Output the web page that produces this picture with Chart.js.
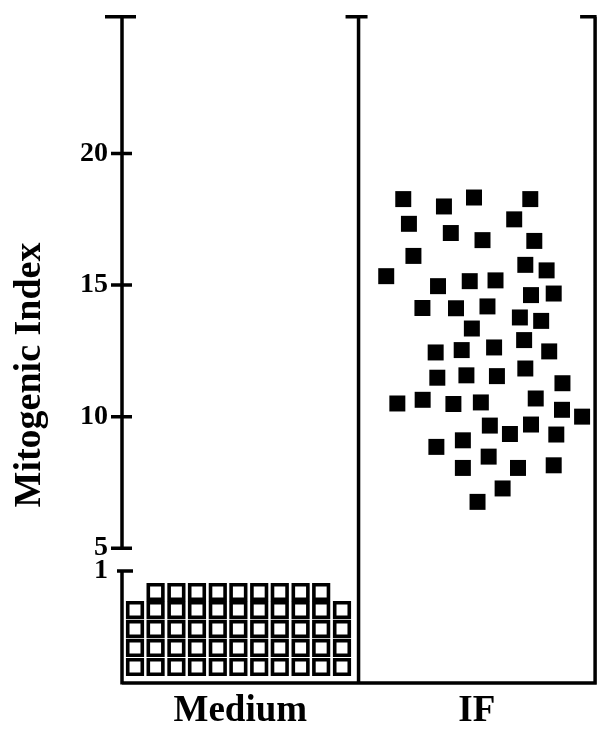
<!DOCTYPE html>
<html>
<head>
<meta charset="utf-8">
<script src="https://cdn.jsdelivr.net/npm/chart.js@4"></script>
<style>
  body { margin: 0; background: #fff; overflow: hidden; }
  #wrap { width: 609px; height: 743px; margin-top: -14px; }
</style>
</head>
<body>
<div id="wrap"><canvas id="mitoChart"></canvas></div>
<script>
// --- DONNEES ---
const categories = ["Medium", "IF"];
const categoryPos = [0.5, 1.5];
const upperTicks = [5, 10, 15, 20];
const lowerTicks = [1];

// Medium : grille de carrés ouverts
const mediumCols = [0.055, 0.142, 0.230, 0.317, 0.405, 0.492, 0.580, 0.667, 0.755, 0.842, 0.930];
const mediumRows = [0.143, 0.3125, 0.482, 0.652];
const mediumTopRow = 0.8125;
const mediumTopCols = [0.142, 0.230, 0.317, 0.405, 0.492, 0.580, 0.667, 0.755, 0.842];

// IF : carrés pleins
const ifX = [1.189, 1.361, 1.488, 1.726, 1.213, 1.658, 1.390, 1.524, 1.743, 1.232,
             1.117, 1.705, 1.795, 1.336, 1.470, 1.579, 1.729, 1.825, 1.270, 1.412,
             1.545, 1.682, 1.772, 1.479, 1.326, 1.436, 1.573, 1.700, 1.806, 1.333,
             1.456, 1.585, 1.705, 1.862, 1.164, 1.271, 1.401, 1.517, 1.749, 1.860,
             1.945, 1.555, 1.640, 1.729, 1.836, 1.329, 1.441, 1.550, 1.441, 1.674,
             1.825, 1.609, 1.503];
const ifY = [18.27, 17.99, 18.33, 18.27, 17.33, 17.50, 16.98, 16.71, 16.68, 16.11,
             15.34, 15.77, 15.56, 14.96, 15.15, 15.18, 14.62, 14.68, 14.13, 14.12,
             14.19, 13.77, 13.64, 13.35, 12.44, 12.53, 12.63, 12.91, 12.48, 11.48,
             11.57, 11.54, 11.83, 11.27, 10.50, 10.64, 10.48, 10.54, 10.69, 10.26,
             10.00, 9.66, 9.34, 9.70, 9.32, 8.85, 9.10, 8.48, 8.05, 8.05,
             8.15, 7.27, 6.76];

const mediumData = [];
mediumRows.forEach(y => mediumCols.forEach(x => mediumData.push({x: x, y: y})));
mediumTopCols.forEach(x => mediumData.push({x: x, y: mediumTopRow}));
const ifData = ifX.map((x, i) => ({x: x, y: ifY[i]}));

const FONT = "'Liberation Serif', 'DejaVu Serif', serif";

// --- AXES DESSINES A LA MAIN (axe brisé) ---
const axesPlugin = {
    id: "brokenAxes",
    afterDraw(chart) {
        const ctx = chart.ctx;
        const sx = chart.scales.x, sy = chart.scales.y, sy2 = chart.scales.y2;
        const x0 = sx.getPixelForValue(0), xm = sx.getPixelForValue(1), x1 = sx.getPixelForValue(2);
        const yTop = sy.getPixelForValue(25.2), y5 = sy.getPixelForValue(5);
        const y1 = sy2.getPixelForValue(1), yBot = sy2.getPixelForValue(0);
        ctx.save();
        ctx.strokeStyle = "#000";
        ctx.lineWidth = 3.5;
        ctx.lineCap = "butt";
        ctx.beginPath();
        // axe gauche (deux morceaux)
        ctx.moveTo(x0, yTop); ctx.lineTo(x0, y5);
        ctx.moveTo(x0, y1); ctx.lineTo(x0, yBot + 1.5);
        // séparateur et bord droit
        ctx.moveTo(xm, yTop); ctx.lineTo(xm, yBot);
        ctx.moveTo(x1, yTop); ctx.lineTo(x1, yBot + 1.5);
        // axe bas
        ctx.moveTo(x0, yBot); ctx.lineTo(x1 + 1.5, yBot);
        // chapeaux en haut
        ctx.moveTo(x0 - 17, yTop); ctx.lineTo(x0 + 14, yTop);
        ctx.moveTo(xm - 13, yTop); ctx.lineTo(xm + 9, yTop);
        ctx.moveTo(x1 - 15, yTop); ctx.lineTo(x1 + 1.5, yTop);
        // graduations
        upperTicks.forEach(v => {
            const p = sy.getPixelForValue(v);
            ctx.moveTo(x0 - 11, p); ctx.lineTo(x0 + 10, p);
        });
        lowerTicks.forEach(v => {
            const p = sy2.getPixelForValue(v);
            ctx.moveTo(x0 - 5, p); ctx.lineTo(x0 + 11, p);
        });
        ctx.stroke();

        // titre de l'axe Y
        ctx.fillStyle = "#000";
        ctx.font = "bold 38px " + FONT;
        ctx.textAlign = "center";
        ctx.textBaseline = "middle";
        ctx.translate(30, 389);
        ctx.rotate(-Math.PI / 2);
        ctx.fillText("Mitogenic Index", 0, 0);
        ctx.restore();
    }
};

const yTickFont = { family: FONT, size: 28, weight: "bold" };

new Chart(document.getElementById("mitoChart"), {
    type: "scatter",
    data: {
        datasets: [
            {
                label: "Medium",
                data: mediumData,
                yAxisID: "y2",
                pointStyle: "rect",
                pointRadius: 10.3,
                pointBorderWidth: 3.6,
                pointBackgroundColor: "#fff",
                pointBorderColor: "#000",
                clip: false
            },
            {
                label: "IF",
                data: ifData,
                yAxisID: "y",
                pointStyle: "rect",
                pointRadius: 11.3,
                pointBorderWidth: 0,
                pointBackgroundColor: "#000",
                pointBorderColor: "#000",
                clip: false
            }
        ]
    },
    options: {
        responsive: true,
        maintainAspectRatio: false,
        animation: false,
        plugins: { legend: { display: false }, tooltip: { enabled: false } },
        scales: {
            x: {
                type: "linear",
                min: 0, max: 2,
                grid: { display: false, drawTicks: false },
                border: { display: false },
                afterBuildTicks: s => { s.ticks = categoryPos.map(v => ({value: v})); },
                afterFit: s => { s.height = 46; },
                ticks: {
                    padding: 6,
                    color: "#000",
                    font: { family: FONT, size: 37, weight: "bold" },
                    callback: (v) => categories[categoryPos.indexOf(v)]
                }
            },
            y2: {
                type: "linear",
                position: "left",
                stack: "mito",
                stackWeight: 135,
                offset: false,
                min: 0, max: 1.205,
                grid: { display: false, drawTicks: false },
                border: { display: false },
                afterBuildTicks: s => { s.ticks = lowerTicks.map(v => ({value: v})); },
                afterFit: s => { s.width = 122; },
                ticks: { padding: 14, color: "#000", font: yTickFont }
            },
            y: {
                type: "linear",
                position: "left",
                stack: "mito",
                stackWeight: 532,
                offset: false,
                min: 5, max: 25.2,
                grid: { display: false, drawTicks: false },
                border: { display: false },
                afterBuildTicks: s => { s.ticks = upperTicks.map(v => ({value: v})); },
                afterFit: s => { s.width = 122; },
                ticks: { padding: 14, color: "#000", font: yTickFont }
            }
        }
    },
    plugins: [axesPlugin]
});
</script>
</body>
</html>
